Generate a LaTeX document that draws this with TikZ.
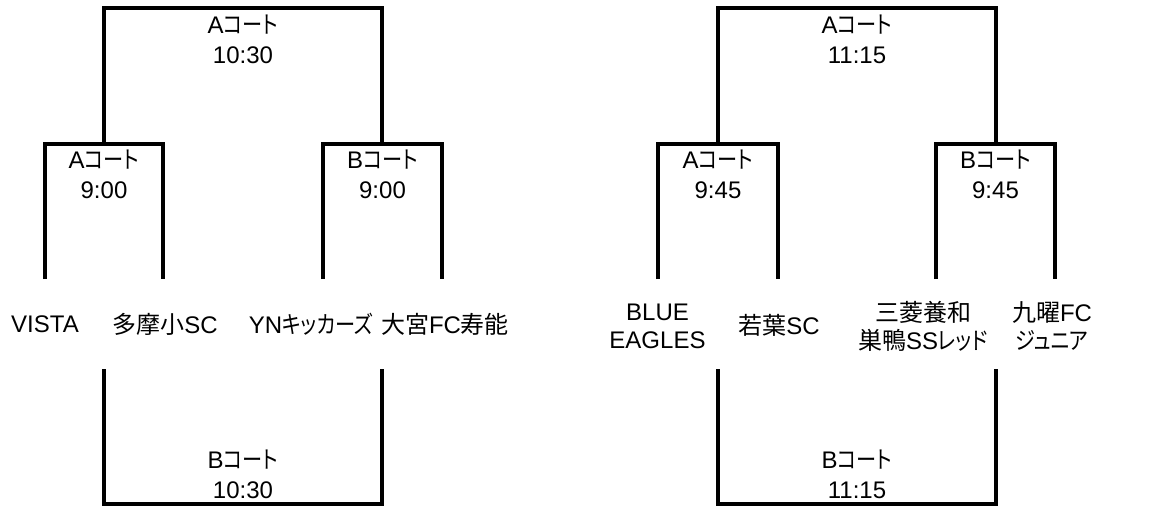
\documentclass[tikz,border=0pt]{standalone}
\usepackage{fontspec}
\setmainfont{Liberation Sans}
\newfontfamily\jpfont[RawFeature=+palt]{Noto Sans CJK JP}
\newfontfamily\knfont[RawFeature=+palt, FakeStretch=0.84]{Noto Sans CJK JP}
\newcommand{\jp}[1]{{\jpfont #1}}
\newcommand{\kn}[1]{{\knfont #1}}
\newcommand{\kt}{\kn{コート}}

\tikzset{
  bracket/.style={line width=3.3pt},
  court/.style={align=center, inner sep=0pt, font=\fontsize{24}{30}\selectfont},
  team/.style={align=center, inner sep=0pt, font=\fontsize{24}{28}\selectfont}
}

\begin{document}
\begin{tikzpicture}[x=1pt, y=-1pt]
  \useasboundingbox (0,0) rectangle (1162,506);

  % left block
  \coordinate (l1) at (45,279);
  \coordinate (l2) at (163,279);
  \coordinate (l3) at (323,279);
  \coordinate (l4) at (442,279);
  \coordinate (lsa) at (104,144);
  \coordinate (lsb) at (382,144);
  \coordinate (lb1) at (104,369);
  \coordinate (lb2) at (382,369);

  \draw [bracket] (l1) -- ++(0,-135) -| (l2);
  \draw [bracket] (l3) -- ++(0,-135) -| (l4);
  \draw [bracket] (lsa) -- ++(0,-136) -| (lsb);
  \draw [bracket] (lb1) -- ++(0,135) -| (lb2);

  \node [court] (lfin) at (243,39) {A\kt\\10:30};
  \node [court] (lsfa) at (104,174) {A\kt\\9:00};
  \node [court] (lsfb) at (382.5,174) {B\kt\\9:00};
  \node [court] (lthird) at (243,474) {B\kt\\10:30};

  \node [team] (vista) at (45,324) {VISTA};
  \node [team] (tama) at (165,324) {\jp{多摩小}SC};
  \node [team] (yn) at (311,324) {YN\kn{キッカーズ}};
  \node [team] (omiya) at (445,324) {\jp{大宮}FC\jp{寿能}};

  % right block
  \coordinate (r1) at (658,279);
  \coordinate (r2) at (778,279);
  \coordinate (r3) at (936,279);
  \coordinate (r4) at (1055,279);
  \coordinate (rsa) at (718,144);
  \coordinate (rsb) at (996,144);
  \coordinate (rb1) at (718,369);
  \coordinate (rb2) at (996,369);

  \draw [bracket] (r1) -- ++(0,-135) -| (r2);
  \draw [bracket] (r3) -- ++(0,-135) -| (r4);
  \draw [bracket] (rsa) -- ++(0,-136) -| (rsb);
  \draw [bracket] (rb1) -- ++(0,135) -| (rb2);

  \node [court] (rfin) at (857,39) {A\kt\\11:15};
  \node [court] (rsfa) at (718,174) {A\kt\\9:45};
  \node [court] (rsfb) at (995.5,174) {B\kt\\9:45};
  \node [court] (rthird) at (857,474) {B\kt\\11:15};

  \node [team] (blue) at (657.5,326) {BLUE\\EAGLES};
  \node [team] (waka) at (779,325) {\jp{若葉}SC};
  \node [team] (mitsu) at (923,326) {\jp{三菱養和}\\\jp{巣鴨}SS\kn{レッド}};
  \node [team] (kuyo) at (1052,326) {\jp{九曜}FC\\\kn{ジュニア}};
\end{tikzpicture}
\end{document}
